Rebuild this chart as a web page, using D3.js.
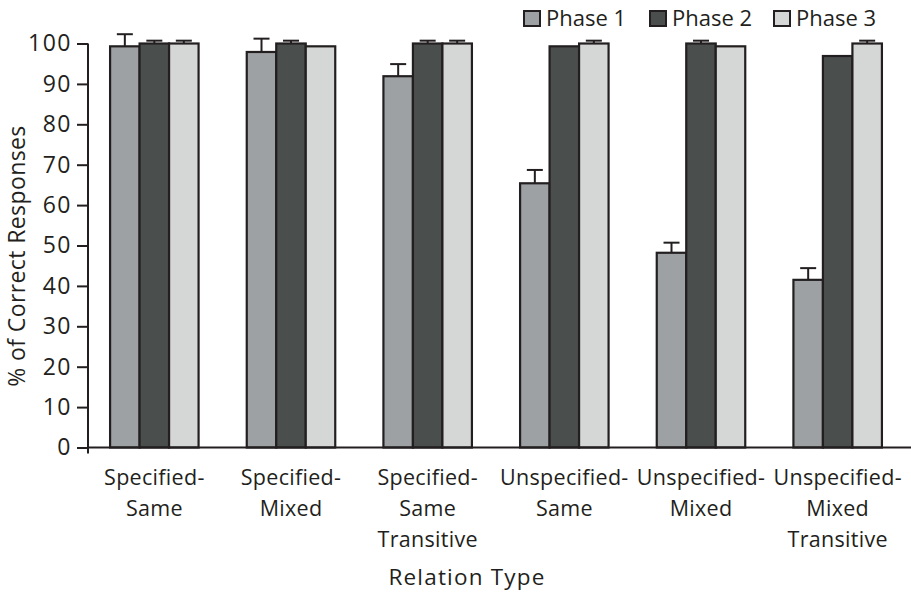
<!DOCTYPE html>
<html>
<head>
<meta charset="utf-8">
<script src="https://cdn.jsdelivr.net/npm/d3@7"></script>
<style>
  html, body { margin: 0; padding: 0; background: #fff; }
  svg text { font-family: "Open Sans", "DejaVu Sans", sans-serif; fill: #231f20; }
</style>
</head>
<body>
<svg id="chart" width="911" height="593"></svg>
<script>
// Relation types along the x axis (each split over several lines)
const categories = [
  ["Specified-", "Same"],
  ["Specified-", "Mixed"],
  ["Specified-", "Same", "Transitive"],
  ["Unspecified-", "Same"],
  ["Unspecified-", "Mixed"],
  ["Unspecified-", "Mixed", "Transitive"]
];
const phases = ["Phase 1", "Phase 2", "Phase 3"];

// Mean % of correct responses per phase
const phase1 = [99.3, 97.9, 91.9, 65.4, 48.2, 41.5];
const phase2 = [100, 100, 100, 99.3, 100, 96.9];
const phase3 = [100, 99.3, 100, 100, 99.3, 100];

// Upper error bar length per phase
const phase1Err = [3.0, 3.3, 3.0, 3.3, 2.5, 2.9];
const phase2Err = [0.7, 0.7, 0.7, 0, 0.7, 0];
const phase3Err = [0.7, 0, 0.7, 0.7, 0, 0.7];

const yTicks = [0, 10, 20, 30, 40, 50, 60, 70, 80, 90, 100];

const colors = ["#9ea1a3", "#4a4f4e", "#d5d7d6"];
const ink = "#231f20";

const svg = d3.select("#chart");
const catKeys = categories.map(c => c.join(" "));
const series = [phase1, phase2, phase3];
const errs = [phase1Err, phase2Err, phase3Err];

const y = d3.scaleLinear().domain([0, 100]).range([447.5, 43.5]);
const x0 = d3.scaleBand().domain(catKeys).range([86, 906])
  .paddingInner(0.3525).paddingOuter(0.17625);
const x1 = d3.scaleBand().domain(phases).range([0, x0.bandwidth()]);

// Bars
const groups = svg.append("g").selectAll("g")
  .data(catKeys)
  .join("g")
  .attr("transform", d => `translate(${x0(d)},0)`);

groups.each(function(key, i) {
  const g = d3.select(this);
  phases.forEach((p, j) => {
    const v = series[j][i];
    const e = errs[j][i];
    const bx = x1(p);
    const cx = bx + x1.bandwidth() / 2;
    if (e > 0) {
      g.append("line")
        .attr("x1", cx).attr("x2", cx)
        .attr("y1", y(v)).attr("y2", y(v + e))
        .attr("stroke", ink).attr("stroke-width", 2);
      g.append("line")
        .attr("x1", cx - 8).attr("x2", cx + 8)
        .attr("y1", y(v + e)).attr("y2", y(v + e))
        .attr("stroke", ink).attr("stroke-width", 2);
    }
    g.append("rect")
      .attr("x", bx).attr("y", y(v))
      .attr("width", x1.bandwidth()).attr("height", y(0) - y(v))
      .attr("fill", colors[j])
      .attr("stroke", ink).attr("stroke-width", 2.2);
  });
});

// Y axis
const yAxis = d3.axisLeft(y).tickValues(yTicks).tickSize(11).tickPadding(5);
const yg = svg.append("g").attr("transform", "translate(88,0)").call(yAxis);
yg.select(".domain").remove();
yg.selectAll(".tick line").attr("stroke", ink).attr("stroke-width", 2);
yg.selectAll(".tick text")
  .attr("font-size", 23)
  .attr("letter-spacing", "1.5px")
  .style("font-family", "'Open Sans', sans-serif")
  .attr("fill", ink);
svg.append("line")
  .attr("x1", 88).attr("x2", 88)
  .attr("y1", y(100)).attr("y2", y(0) + 6)
  .attr("stroke", ink).attr("stroke-width", 2);

// X axis baseline
svg.append("line")
  .attr("x1", 88).attr("x2", 911)
  .attr("y1", y(0)).attr("y2", y(0))
  .attr("stroke", ink).attr("stroke-width", 2);

// Category labels
const labels = svg.append("g").selectAll("text")
  .data(categories)
  .join("text")
  .attr("text-anchor", "middle")
  .attr("font-size", 21.5)
  .attr("letter-spacing", "0.3px")
  .attr("transform", (d, i) => `translate(${x0(catKeys[i]) + x0.bandwidth() / 2},485)`);
labels.selectAll("tspan")
  .data(d => d)
  .join("tspan")
  .attr("x", 0)
  .attr("dy", (d, k) => k === 0 ? 0 : 31)
  .text(d => d);

// Axis titles
svg.append("text")
  .attr("x", 467).attr("y", 585)
  .attr("text-anchor", "middle")
  .attr("font-size", 22.5)
  .attr("letter-spacing", "1.2px")
  .text("Relation Type");

svg.append("text")
  .attr("transform", "translate(25,256) rotate(-90)")
  .attr("text-anchor", "middle")
  .attr("font-size", 23)
  .attr("letter-spacing", "0.4px")
  .text("% of Correct Responses");

// Legend
const legendX = [523, 649, 773];
const legend = svg.append("g").selectAll("g")
  .data(phases)
  .join("g")
  .attr("transform", (d, i) => `translate(${legendX[i]},0)`);
legend.append("rect")
  .attr("x", 1).attr("y", 11)
  .attr("width", 16).attr("height", 15)
  .attr("fill", (d, i) => colors[i])
  .attr("stroke", ink).attr("stroke-width", 2);
legend.append("text")
  .attr("x", 23).attr("y", 26)
  .attr("font-size", 22)
  .text(d => d);
</script>
</body>
</html>
